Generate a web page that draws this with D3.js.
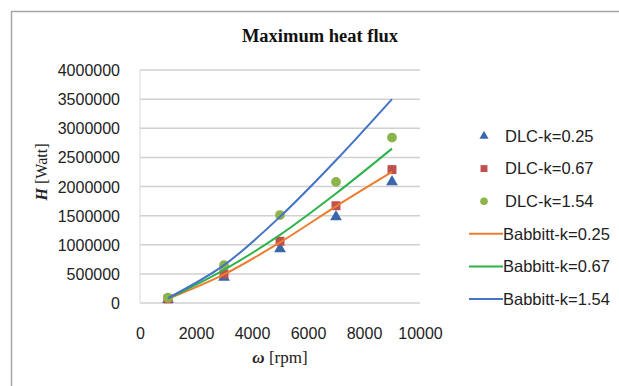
<!DOCTYPE html>
<html>
<head>
<meta charset="utf-8">
<script src="https://cdn.jsdelivr.net/npm/d3@7"></script>
<style>
  body { margin: 0; background: #fff; }
  svg { display: block; }
</style>
</head>
<body>
<div id="chart"></div>
<script>
// data
var rpm = [1000, 3000, 5000, 7000, 9000];
var dlc_025 = [60000, 440000, 930000, 1480000, 2080000];
var dlc_067 = [70000, 500000, 1060000, 1670000, 2290000];
var dlc_154 = [90000, 650000, 1510000, 2080000, 2840000];
var babbitt_025 = [70000, 490000, 1040000, 1660000, 2250000];
var babbitt_067 = [75000, 570000, 1170000, 1880000, 2650000];
var babbitt_154 = [85000, 650000, 1480000, 2450000, 3500000];
var x_ticks = [0, 2000, 4000, 6000, 8000, 10000];
var y_ticks = [0, 500000, 1000000, 1500000, 2000000, 2500000, 3000000, 3500000, 4000000];

var width = 619, height = 386;
var plot_left = 140, plot_right = 420, plot_top = 70, plot_bottom = 303;
var sans = "'Liberation Sans', Arial, sans-serif";
var serif = "'Liberation Serif', 'Times New Roman', serif";

var svg = d3.select('#chart').append('svg')
  .attr('width', width)
  .attr('height', height);

// outer frame
svg.append('rect')
  .attr('x', 11.5).attr('y', 11.5)
  .attr('width', 620).attr('height', 390)
  .attr('fill', '#fff')
  .attr('stroke', '#a6a6a6')
  .attr('stroke-width', 1.5);

var x = d3.scaleLinear().domain([0, 10000]).range([plot_left, plot_right]);
var y = d3.scaleLinear().domain([0, 4000000]).range([plot_bottom, plot_top]);

// gridlines
svg.append('g')
  .selectAll('line')
  .data(y_ticks)
  .join('line')
  .attr('x1', plot_left).attr('x2', plot_right)
  .attr('y1', function(d){ return y(d); })
  .attr('y2', function(d){ return y(d); })
  .attr('stroke', '#d0d0d0')
  .attr('stroke-width', 1.5);

// left axis line
svg.append('line')
  .attr('x1', plot_left).attr('x2', plot_left)
  .attr('y1', plot_top).attr('y2', plot_bottom)
  .attr('stroke', '#d9d9d9')
  .attr('stroke-width', 1);

// axes (labels only)
var y_axis = svg.append('g')
  .attr('transform', `translate(${plot_left - 17},0)`)
  .call(d3.axisLeft(y).tickValues(y_ticks).tickSize(0).tickFormat(d3.format('d')));
var x_axis = svg.append('g')
  .attr('transform', `translate(0,${plot_bottom + 22})`)
  .call(d3.axisBottom(x).tickValues(x_ticks).tickSize(0).tickFormat(d3.format('d')));
[x_axis, y_axis].forEach(function(a){
  a.select('.domain').remove();
  a.selectAll('text')
    .style('font-family', sans)
    .style('font-size', '16px')
    .attr('fill', '#222');
});
y_axis.selectAll('text').attr('dy', '0.35em');

// title
svg.append('text')
  .attr('x', 320).attr('y', 42)
  .attr('text-anchor', 'middle')
  .style('font-family', serif)
  .style('font-weight', 'bold')
  .style('font-size', '18.5px')
  .attr('fill', '#111')
  .text('Maximum heat flux');

// axis titles
var xt = svg.append('text')
  .attr('x', 280).attr('y', 363)
  .attr('text-anchor', 'middle')
  .style('font-family', serif)
  .style('font-size', '17px')
  .attr('fill', '#222');
xt.append('tspan').style('font-style', 'italic').style('font-weight', 'bold').text('ω');
xt.append('tspan').text(' [rpm]');

var yt = svg.append('text')
  .attr('transform', 'translate(47,172) rotate(-90)')
  .attr('text-anchor', 'middle')
  .style('font-family', serif)
  .style('font-size', '16px')
  .attr('fill', '#222');
yt.append('tspan').style('font-style', 'italic').style('font-weight', 'bold').text('H');
yt.append('tspan').text(' [Watt]');

// smoothed lines
var line_series = [
  { name: 'Babbitt-k=0.25', values: babbitt_025, color: '#ed7d31' },
  { name: 'Babbitt-k=0.67', values: babbitt_067, color: '#2db34a' },
  { name: 'Babbitt-k=1.54', values: babbitt_154, color: '#4472c4' }
];
var point_series = [
  { name: 'DLC-k=0.25', values: dlc_025, color: '#3a67ab', shape: d3.symbolTriangle, size: 60 },
  { name: 'DLC-k=0.67', values: dlc_067, color: '#c0504d', shape: d3.symbolSquare, size: 80 },
  { name: 'DLC-k=1.54', values: dlc_154, color: '#8db34b', shape: d3.symbolCircle, size: 75 }
];

var line = d3.line()
  .x(function(d, i){ return x(rpm[i]); })
  .y(function(d){ return y(d); })
  .curve(d3.curveCatmullRom.alpha(0.5));

// points first, lines drawn over them
point_series.forEach(function(s){
  svg.append('g')
    .selectAll('path')
    .data(s.values)
    .join('path')
    .attr('d', d3.symbol().type(s.shape).size(s.size))
    .attr('transform', function(d, i){ return `translate(${x(rpm[i])},${y(d)})`; })
    .attr('fill', s.color);
});
line_series.forEach(function(s){
  svg.append('path')
    .datum(s.values)
    .attr('d', line)
    .attr('fill', 'none')
    .attr('stroke', s.color)
    .attr('stroke-width', 2);
});

// legend
var legend_top = 136, legend_step = 32.6;
point_series.forEach(function(s, i){
  var g = svg.append('g').attr('transform', `translate(0,${legend_top + i * legend_step})`);
  g.append('path')
    .attr('d', d3.symbol().type(s.shape).size(s.size * 0.6))
    .attr('transform', 'translate(484,0)')
    .attr('fill', s.color);
  g.append('text')
    .attr('x', 505).attr('y', 0).attr('dy', '0.35em')
    .style('font-family', sans).style('font-size', '16.5px')
    .attr('fill', '#222')
    .text(s.name);
});
line_series.forEach(function(s, i){
  var g = svg.append('g').attr('transform', `translate(0,${legend_top + (i + 3) * legend_step})`);
  g.append('line')
    .attr('x1', 469).attr('x2', 503)
    .attr('stroke', s.color).attr('stroke-width', 2);
  g.append('text')
    .attr('x', 503).attr('y', 0).attr('dy', '0.35em')
    .style('font-family', sans).style('font-size', '16.5px')
    .attr('fill', '#222')
    .text(s.name);
});
</script>
</body>
</html>
